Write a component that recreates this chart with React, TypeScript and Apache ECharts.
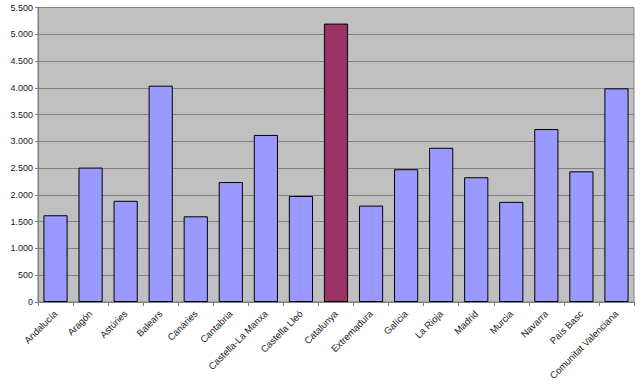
import React, { useEffect, useRef } from "react";
import * as echarts from "echarts";

const categories = [
  "Andalucía", "Aragón", "Astúries", "Balears", "Canàries", "Cantabria",
  "Castella-La Manxa", "Castella Lleó", "Catalunya", "Extremadura", "Galícia",
  "La Rioja", "Madrid", "Murcia", "Navarra", "País Basc", "Comunitat Valenciana",
];
const values = [1620, 2510, 1890, 4040, 1600, 2240, 3120, 1980, 5200, 1800, 2480, 2880, 2330, 1870, 3230, 2440, 3990];
const highlighted = "Catalunya";

const fmt = (v: number) => String(v).replace(/\B(?=(\d{3})+(?!\d))/g, ".");

export default function App() {
  const ref = useRef<HTMLDivElement>(null);
  useEffect(() => {
    if (!ref.current) return;
    const chart = echarts.init(ref.current, undefined, { renderer: "svg" });
    chart.setOption({
      animation: false,
      textStyle: { fontFamily: "Liberation Sans, Arial, sans-serif" },
      grid: {
        left: 38, right: 6, top: 7.5, bottom: 87,
        show: true, backgroundColor: "#c0c0c0", borderColor: "#808080", borderWidth: 1,
      },
      xAxis: {
        type: "category",
        data: categories,
        axisLine: { lineStyle: { color: "#808080", width: 1 } },
        axisTick: { show: true, length: 4, lineStyle: { color: "#808080" } },
        axisLabel: { rotate: 45, fontSize: 9.5, color: "#1a1a1a", margin: 10, interval: 0 },
      },
      yAxis: {
        type: "value",
        min: 0, max: 5500, interval: 500,
        axisLine: { show: true, lineStyle: { color: "#808080" } },
        axisTick: { show: true, length: 3, lineStyle: { color: "#808080" } },
        splitLine: { lineStyle: { color: "#808080", width: 1 } },
        axisLabel: { fontSize: 9, color: "#1a1a1a", margin: 5, formatter: (v: number) => fmt(v) },
      },
      series: [{
        type: "bar",
        barCategoryGap: "31%",
        data: values.map((v, i) => ({
          value: v,
          itemStyle: {
            color: categories[i] === highlighted ? "#993366" : "#9999ff",
            borderColor: "#000", borderWidth: 1,
          },
        })),
      }],
    });
    return () => chart.dispose();
  }, []);
  return <div ref={ref} style={{ width: 640, height: 389, position: "absolute", left: 0, top: 0 }} />;
}
